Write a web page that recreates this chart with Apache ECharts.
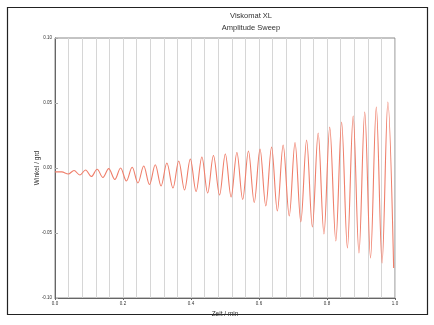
<!DOCTYPE html>
<html>
<head>
<meta charset="utf-8">
<script src="https://cdn.jsdelivr.net/npm/echarts@6/dist/echarts.min.js"></script>
<style>
  html, body { margin: 0; padding: 0; background: #fff; }
  #chart { width: 434px; height: 325px; }
</style>
</head>
<body>
<div id="chart"></div>
<script>
// local extrema of the trace (time in min, angle in grd)
const startTimes = [0, 0.02]
const startAngles = [-0.003, -0.003]

const troughTimes = [0.039, 0.073, 0.107, 0.141, 0.176, 0.210, 0.244, 0.278, 0.312, 0.347,
  0.381, 0.415, 0.449, 0.484, 0.518, 0.552, 0.586, 0.620, 0.654, 0.689,
  0.723, 0.757, 0.791, 0.826, 0.860, 0.894, 0.928, 0.962, 0.996]
const troughAngles = [-0.0046, -0.0054, -0.0065, -0.0073, -0.0088, -0.0100, -0.0115, -0.0127, -0.0138, -0.0154,
  -0.0169, -0.0181, -0.0192, -0.0208, -0.0223, -0.0242, -0.0265, -0.0292, -0.0331, -0.0369,
  -0.0415, -0.0454, -0.0508, -0.0562, -0.0615, -0.0654, -0.0692, -0.0731, -0.0769]

const peakTimes = [0.056, 0.090, 0.124, 0.158, 0.193, 0.227, 0.261, 0.295, 0.329, 0.364,
  0.398, 0.432, 0.466, 0.501, 0.535, 0.569, 0.603, 0.637, 0.671, 0.706,
  0.740, 0.774, 0.808, 0.843, 0.877, 0.911, 0.945, 0.979]
const peakAngles = [-0.0019, -0.0015, -0.0010, -0.0005, 0.0000, 0.0006, 0.0015, 0.0025, 0.0038, 0.0054,
  0.0069, 0.0085, 0.0096, 0.0108, 0.0119, 0.0131, 0.0146, 0.0162, 0.0177, 0.0196,
  0.0215, 0.0269, 0.0315, 0.0354, 0.0400, 0.0431, 0.0469, 0.0508]

const xTickLabels = ['0.0', '0.2', '0.4', '0.6', '0.8', '1.0']
const yTickLabels = ['-0.10', '-0.05', '0.00', '0.05', '0.10']

const trace = startTimes.map((t, i) => [t, startAngles[i]])
for (let i = 0; i < troughTimes.length; i++) {
  trace.push([troughTimes[i], troughAngles[i]])
  if (i < peakTimes.length) trace.push([peakTimes[i], peakAngles[i]])
}

const chart = echarts.init(document.getElementById('chart'))
const labelFont = { fontFamily: 'Liberation Sans', color: '#333' }

chart.setOption({
  animation: false,
  backgroundColor: '#fff',
  graphic: [
    {
      type: 'rect',
      shape: { x: 7.5, y: 7.5, width: 420, height: 307 },
      style: { fill: 'none', stroke: '#222', lineWidth: 1.2 },
      silent: true,
    },
  ],
  title: {
    text: 'Viskomat XL\nAmplitude Sweep',
    left: 246,
    top: 5,
    textAlign: 'center',
    textStyle: { fontFamily: 'Liberation Sans', fontSize: 7.5, fontWeight: 'normal', color: '#333', lineHeight: 12 },
  },
  grid: {
    left: 55,
    right: 39,
    top: 38,
    bottom: 27,
    show: true,
    borderColor: '#888',
    borderWidth: 1,
  },
  xAxis: {
    type: 'value',
    min: 0,
    max: 1,
    interval: 0.2,
    name: 'Zeit / min',
    nameLocation: 'middle',
    nameGap: 13,
    nameMoveOverlap: false,
    nameTextStyle: { ...labelFont, fontSize: 6.5 },
    axisLine: { onZero: false, lineStyle: { color: '#666' } },
    axisTick: { show: true, length: 2, lineStyle: { color: '#666' } },
    axisLabel: {
      ...labelFont,
      fontSize: 4.5,
      margin: 3,
      formatter: (v) => xTickLabels[Math.round(v * 5)],
    },
    splitLine: { show: true, lineStyle: { color: '#d6d6d6', width: 1 } },
    minorTick: { show: false, splitNumber: 5 },
    minorSplitLine: { show: true, lineStyle: { color: '#d6d6d6', width: 1 } },
  },
  yAxis: {
    type: 'value',
    min: -0.1,
    max: 0.1,
    interval: 0.05,
    name: 'Winkel / grd',
    nameLocation: 'middle',
    nameGap: 14,
    nameMoveOverlap: false,
    nameTextStyle: { ...labelFont, fontSize: 6.5 },
    axisLine: { show: true, onZero: false, lineStyle: { color: '#666' } },
    axisTick: { show: true, inside: true, length: 3, lineStyle: { color: '#aaa' } },
    axisLabel: {
      ...labelFont,
      fontSize: 4.5,
      margin: 3,
      formatter: (v) => yTickLabels[Math.round(v * 20) + 2],
    },
    splitLine: { show: false },
  },
  series: [
    {
      type: 'line',
      data: trace,
      smooth: 0.35,
      smoothMonotone: 'x',
      showSymbol: false,
      lineStyle: { color: '#ef7e6a', width: 1.1 },
    },
  ],
})
</script>
</body>
</html>
